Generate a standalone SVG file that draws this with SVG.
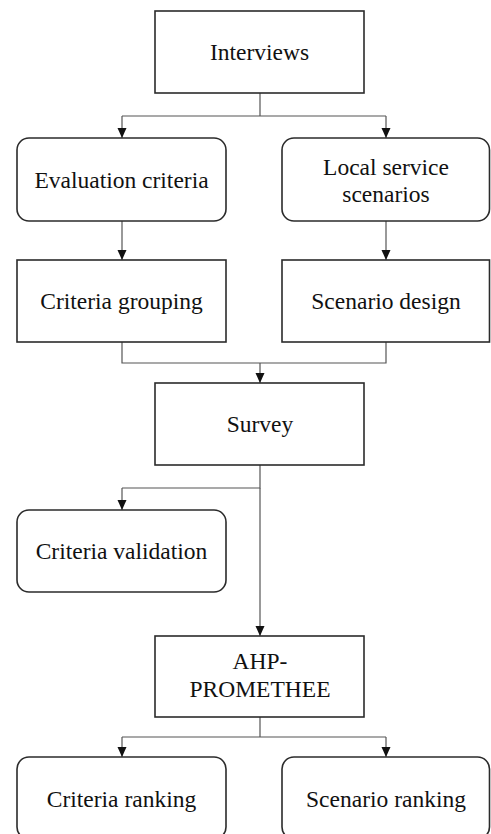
<svg xmlns="http://www.w3.org/2000/svg" width="491" height="834" viewBox="0 0 491 834">
<style>
.box{fill:#fff;stroke:#2b2b2b;stroke-width:1.6}
.lbl{font-family:'Liberation Serif','Times New Roman','DejaVu Serif',serif;font-size:23.5px;fill:#111;text-anchor:middle}
.con{fill:none;stroke:#555;stroke-width:1.2}
</style>
<defs>
<marker id="arr" viewBox="0 0 10 10" refX="10" refY="5" markerWidth="10" markerHeight="10" markerUnits="userSpaceOnUse" orient="auto">
<path d="M0,0.5 L10,5 L0,9.5 Z" fill="#111"/>
</marker>
</defs>
<rect width="491" height="834" fill="#fff"/>
<g id="connectors">
<path class="con" d="M260,93 V116 M122,116 H386"/>
<path class="con" d="M122,116 V138" marker-end="url(#arr)"/>
<path class="con" d="M386,116 V138" marker-end="url(#arr)"/>
<path class="con" d="M122,221 V260" marker-end="url(#arr)"/>
<path class="con" d="M386,221 V260" marker-end="url(#arr)"/>
<path class="con" d="M122,342 V363 H386 V342"/>
<path class="con" d="M260,363 V383" marker-end="url(#arr)"/>
<path class="con" d="M260,465 V488 H122"/>
<path class="con" d="M122,488 V510" marker-end="url(#arr)"/>
<path class="con" d="M260,488 V636" marker-end="url(#arr)"/>
<path class="con" d="M260,717 V737 M122,737 H386"/>
<path class="con" d="M122,737 V757" marker-end="url(#arr)"/>
<path class="con" d="M386,737 V757" marker-end="url(#arr)"/>
</g>
<g id="interviews">
<rect class="box" x="155" y="11" width="209" height="82"/>
<text class="lbl" x="259.5" y="60" font-family="Liberation Serif">Interviews</text>
</g>
<g id="evaluation-criteria">
<rect class="box" x="17" y="138" width="209" height="83" rx="12"/>
<text class="lbl" x="121.5" y="188">Evaluation criteria</text>
</g>
<g id="local-service-scenarios">
<rect class="box" x="282" y="138" width="207.5" height="83" rx="12"/>
<text class="lbl" x="386" y="175">Local service</text>
<text class="lbl" x="386" y="202">scenarios</text>
</g>
<g id="criteria-grouping">
<rect class="box" x="17" y="260" width="209" height="82"/>
<text class="lbl" x="121.5" y="309">Criteria grouping</text>
</g>
<g id="scenario-design">
<rect class="box" x="282" y="260" width="207.5" height="82"/>
<text class="lbl" x="386" y="309">Scenario design</text>
</g>
<g id="survey">
<rect class="box" x="155" y="383" width="209" height="82"/>
<text class="lbl" x="260" y="432">Survey</text>
</g>
<g id="criteria-validation">
<rect class="box" x="17" y="510" width="209" height="82" rx="12"/>
<text class="lbl" x="121.5" y="559">Criteria validation</text>
</g>
<g id="ahp-promethee">
<rect class="box" x="155" y="636" width="209" height="81"/>
<text class="lbl" x="260" y="669">AHP-</text>
<text class="lbl" x="260" y="697">PROMETHEE</text>
</g>
<g id="criteria-ranking">
<rect class="box" x="17" y="757" width="209" height="82" rx="12"/>
<text class="lbl" x="121.5" y="807">Criteria ranking</text>
</g>
<g id="scenario-ranking">
<rect class="box" x="282" y="757" width="207.5" height="82" rx="12"/>
<text class="lbl" x="386" y="807">Scenario ranking</text>
</g>
</svg>
